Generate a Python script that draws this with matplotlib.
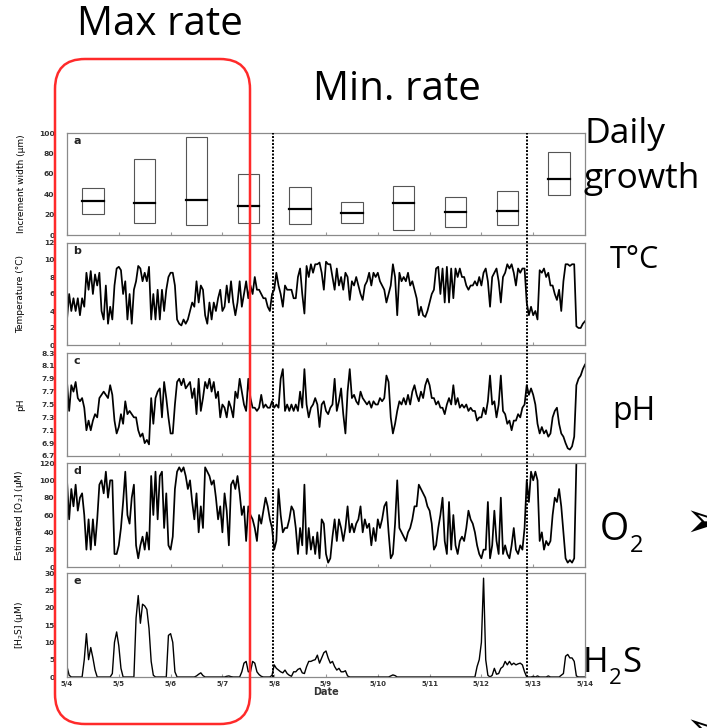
import numpy as np
import matplotlib
matplotlib.use("Agg")
import matplotlib.pyplot as plt
from matplotlib.patches import FancyBboxPatch, Rectangle
from matplotlib.lines import Line2D
from matplotlib import transforms

W, H = 707, 728

# --- panel a: daily increment width (um), one box per day ---
box_day = [0.5, 1.5, 2.5, 3.5, 4.5, 5.5, 6.5, 7.5, 8.5, 9.5]
box_low = [20.5, 12, 10, 12, 11, 12, 5, 8, 10, 39]
box_high = [46, 74.5, 96, 60, 47, 32, 48, 37, 43, 81]
box_med = [33, 31.5, 34, 28.5, 25.5, 22, 31, 22.5, 24, 55]

# --- hourly records from 5/4 00:00 to 5/14 00:00 ---
temp_c = [
    3.0, 6.0, 4.0, 5.5, 4.0, 5.5, 3.5, 5.5, 4.5, 8.5,
    6.5, 8.7, 6.0, 8.3, 7.0, 8.5, 4.0, 3.0, 7.0, 2.5,
    4.5, 3.0, 7.0, 9.0, 9.2, 8.8, 6.0, 7.5, 3.0, 6.0,
    2.5, 6.5, 7.5, 9.3, 9.0, 7.5, 8.5, 7.5, 9.2, 3.0,
    6.0, 3.0, 6.5, 3.0, 6.5, 4.0, 6.5, 8.0, 8.5, 8.5,
    7.0, 3.0, 2.5, 2.3, 3.0, 2.5, 3.0, 4.0, 5.0, 4.5,
    7.5, 5.0, 7.0, 6.5, 3.5, 2.5, 5.0, 3.0, 5.0, 4.0,
    5.5, 6.5, 4.0, 4.5, 7.0, 5.0, 7.5, 5.0, 3.5, 5.0,
    7.5, 4.5, 6.0, 7.5, 5.5, 7.0, 6.0, 8.0, 6.5, 6.5,
    6.0, 5.5, 5.5, 4.5, 4.0, 6.0, 6.5, 8.5, 7.0, 6.0,
    4.5, 7.0, 6.5, 6.5, 6.5, 5.5, 5.5, 8.0, 9.0, 6.0,
    3.7, 9.3, 8.0, 9.5, 8.5, 9.5, 9.5, 9.7, 8.5, 6.5,
    9.8, 9.5, 9.5, 8.0, 6.5, 9.0, 7.0, 8.0, 6.5, 8.5,
    8.0, 5.3, 7.5, 7.0, 8.0, 7.0, 6.0, 5.3, 7.0, 7.5,
    8.5, 7.0, 8.5, 8.0, 8.5, 7.5, 7.0, 6.5, 5.0, 6.0,
    7.0, 9.5, 8.0, 3.5, 8.5, 7.5, 8.0, 7.5, 8.5, 7.0,
    7.5, 6.5, 5.5, 3.5, 4.5, 3.5, 3.3, 4.0, 5.0, 6.0,
    6.5, 9.0, 9.2, 6.0, 9.0, 5.0, 9.2, 5.0, 9.0, 5.5,
    9.0, 8.0, 9.0, 8.0, 8.0, 7.0, 6.5, 7.0, 7.0, 7.5,
    7.0, 8.0, 7.0, 8.5, 9.0, 7.5, 4.5, 8.0, 8.5, 9.0,
    7.5, 5.0, 8.0, 8.5, 9.5, 9.0, 9.5, 8.5, 7.0, 9.0,
    8.5, 9.0, 9.0, 5.0, 3.5, 4.5, 3.5, 4.0, 3.0, 8.8,
    8.5, 9.0, 8.0, 8.5, 7.0, 7.0, 6.0, 5.3, 6.5, 4.0,
    7.5, 9.5, 9.5, 9.3, 9.5, 9.5, 2.2, 2.0, 2.0, 2.5,
    2.8,
]

ph = [
    7.85, 7.4, 7.8, 7.7, 7.85, 7.6, 7.55, 7.6, 7.45, 7.1,
    7.25, 7.1, 7.25, 7.35, 7.3, 7.6, 7.65, 7.7, 7.65, 7.6,
    7.8, 7.65, 7.25, 7.05, 7.15, 7.35, 7.2, 7.55, 7.35, 7.4,
    7.35, 7.3, 7.3, 7.1, 7.0, 7.05, 6.9, 6.95, 6.88, 7.6,
    7.2, 7.6, 7.7, 7.75, 7.3, 7.85, 7.6, 7.3, 7.05, 7.05,
    7.5, 7.85, 7.9, 7.8, 7.9, 7.75, 7.8, 7.85, 7.6, 7.75,
    7.35, 7.9, 7.4, 7.6, 7.85, 7.75, 7.9, 7.7, 7.85, 7.6,
    7.7, 7.3, 7.5, 7.45, 7.3, 7.55, 7.45, 7.3, 7.7, 7.6,
    7.9, 7.7, 7.5, 7.4, 7.9, 7.6, 7.45, 7.45, 7.4, 7.45,
    7.65, 7.45, 7.5, 7.45, 7.45, 7.55, 7.45, 7.5, 7.45, 7.9,
    8.05, 7.4, 7.5, 7.4, 7.5, 7.4, 7.5, 7.4, 7.7, 7.45,
    8.05, 7.5, 7.3, 7.45, 7.5, 7.6, 7.5, 7.15, 7.5, 7.55,
    7.4, 7.35, 7.45, 7.5, 7.9, 7.4, 7.55, 7.75, 7.35, 7.05,
    7.7, 8.05, 7.6, 7.65, 7.55, 7.5, 7.7, 7.6, 7.55, 7.5,
    7.55, 7.45, 7.55, 7.5, 7.5, 7.6, 7.55, 7.6, 7.95, 7.85,
    7.3, 7.05, 7.2, 7.4, 7.55, 7.5, 7.6, 7.5, 7.65, 7.5,
    7.7, 7.8, 7.65, 7.55, 7.7, 7.6, 7.8, 7.9, 7.8, 7.6,
    7.6, 7.5, 7.55, 7.45, 7.45, 7.35, 7.5, 7.6, 7.5, 7.8,
    7.5, 7.6, 7.45, 7.5, 7.45, 7.5, 7.4, 7.45, 7.4, 7.4,
    7.25, 7.3, 7.3, 7.45, 7.35, 7.55, 7.95, 7.5, 7.55, 7.3,
    7.5, 7.95, 7.4, 7.35, 7.2, 7.25, 7.1, 7.25, 7.25, 7.35,
    7.3, 7.45, 7.5, 7.8, 7.65, 7.75, 7.65, 7.5, 7.2, 7.05,
    7.15, 7.05, 7.1, 7.0, 7.05, 7.3, 7.4, 7.45, 7.2, 7.05,
    7.0, 6.9, 6.82, 6.8, 6.85, 7.0, 7.8, 7.9, 7.95, 8.05,
    8.12,
]

oxygen = [
    100, 55, 90, 70, 95, 65, 80, 85, 60, 20,
    55, 20, 55, 25, 55, 95, 100, 85, 110, 80,
    100, 100, 15, 15, 25, 45, 75, 110, 60, 50,
    80, 95, 25, 10, 25, 35, 20, 40, 20, 105,
    60, 110, 55, 105, 110, 45, 85, 25, 20, 35,
    90, 110, 115, 110, 115, 105, 90, 100, 75, 55,
    85, 40, 70, 45, 115, 110, 105, 95, 100, 80,
    55, 70, 40, 85, 65, 25, 95, 100, 90, 105,
    85, 60, 70, 30, 70, 60, 55, 45, 30, 60,
    50, 65, 80, 70, 55, 45, 20, 30, 90, 60,
    40, 45, 45, 55, 70, 65, 45, 15, 45, 25,
    95, 15, 45, 20, 35, 15, 40, 10, 55, 50,
    15, 5, 10, 35, 55, 30, 55, 45, 30, 45,
    70, 40, 50, 40, 50, 55, 70, 40, 55, 45,
    50, 25, 45, 30, 55, 45, 55, 70, 75, 40,
    10, 15, 50, 100, 45, 40, 35, 30, 40, 45,
    55, 70, 70, 95, 90, 85, 80, 70, 65, 50,
    20, 25, 45, 60, 80, 30, 15, 75, 20, 60,
    25, 15, 30, 35, 30, 45, 65, 55, 50, 40,
    25, 15, 10, 20, 20, 75, 10, 25, 65, 30,
    15, 80, 15, 25, 15, 10, 25, 45, 20, 15,
    25, 20, 45, 100, 75, 110, 100, 110, 100, 30,
    40, 20, 30, 25, 30, 60, 80, 75, 90, 70,
    40, 10, 5, 8, 5, 10, 120, 120, 120, 120,
    120,
]

h2s = [
    3.0, 0.5, 0, 0, 0, 0, 0, 0, 5, 12.5,
    5, 8.5, 5.5, 2, 0, 0, 0, 0, 0, 0,
    0, 1, 10, 13, 9, 2.5, 0, 0, 0, 0,
    0, 0, 17, 23.5, 15.5, 21, 20.5, 19.5, 14, 4.5,
    0.5, 0, 0, 0, 0, 0, 0, 12, 12.5, 10,
    1.5, 0, 0, 0, 0, 0, 0, 0, 0, 0,
    0.3, 0.8, 1.2, 0.4, 0, 0, 0, 0, 0, 0,
    0, 0, 0, 0, 0.2, 0.3, 0.1, 0, 0, 0,
    0, 1.5, 4.0, 4.5, 1.5, 1.5, 4.5, 4.0, 1.5, 0.7,
    0.2, 0, 0, 0, 0, 0.5, 3.5, 2.5, 2, 1.5,
    1.2, 2, 1, 0.5, 0.2, 1.5, 1.5, 2.2, 2.5, 1.2,
    1.0, 3, 4.5, 4.5, 4.8, 5, 6.3, 4, 5.5, 7,
    7.5, 5.5, 4, 4.5, 3, 2, 2.5, 1.5, 1.5, 1.8,
    0.3, 0, 0, 0, 0, 0, 0, 0, 0, 0,
    0, 0, 0, 0, 0, 0, 0, 0, 0, 0,
    0.3, 0.6, 0.4, 0, 0, 0, 0, 0, 0, 0,
    0, 0, 0, 0, 0, 0, 0, 0, 0, 0,
    0, 0, 0, 0, 0, 0, 0, 0, 0, 0,
    0, 0, 0, 0, 0, 0, 0, 0, 0, 0,
    3, 5, 10, 28.5, 5, 0.5, 0, 0.5, 2.5, 0.8,
    1, 2.5, 3, 4.5, 3.5, 4.5, 3.5, 4, 3.5, 3.8,
    4, 3.5, 1.5, 0, 0, 0, 0.2, 0, 0.3, 0,
    0, 0, 0, 0.3, 0, 0, 0, 0, 0, 0.5,
    1, 6, 6.5, 5.5, 5.5, 4.5, 0.3, 0, 0, 0,
    0,
]

date_labels = ["5/4", "5/5", "5/6", "5/7", "5/8", "5/9", "5/10",
               "5/11", "5/12", "5/13", "5/14"]
event_days = [3.98, 8.88]   # dotted markers

hours = np.arange(len(temp_c)) / 24.0

fig = plt.figure(figsize=(W / 100, H / 100), dpi=100)


def px_rect(top, bottom, left=67, right=585):
    return [left / W, 1 - bottom / H, (right - left) / W, (bottom - top) / H]


panel_px = [(133, 235), (243, 345), (353, 456), (463, 567), (573, 677)]
axes = [fig.add_axes(px_rect(t, b)) for t, b in panel_px]
ax_a, ax_b, ax_c, ax_d, ax_e = axes

narrow = ["Liberation Sans Narrow", "DejaVu Sans"]

for ax, letter in zip(axes, "abcde"):
    ax.set_xlim(0, 10)
    ax.set_xticks(range(11))
    for s in ax.spines.values():
        s.set_color("#8a8a8a")
        s.set_linewidth(0.9)
    ax.tick_params(axis="y", length=0, pad=9, labelsize=5.4, labelcolor="#333333")
    ax.tick_params(axis="x", direction="in", length=2, color="#999999",
                   labelbottom=False)
    ax.text(0.012, 0.97, letter, transform=ax.transAxes, fontsize=8,
            fontweight="bold", va="top", color="#222222")

# a
bw = 0.41
for d, lo, hi, md in zip(box_day, box_low, box_high, box_med):
    ax_a.add_patch(Rectangle((d - bw / 2, lo), bw, hi - lo, fill=False,
                             ec="#555555", lw=0.8))
    ax_a.plot([d - bw / 2, d + bw / 2], [md, md], color="k", lw=1.6)
ax_a.set_ylim(0, 100)
ax_a.set_yticks(range(0, 101, 20))
ax_a.set_ylabel("Increment width (µm)", family=narrow, fontsize=6.5)

# b-e
ax_b.plot(hours, temp_c, color="k", lw=1.25)
ax_b.set_ylim(0, 12)
ax_b.set_yticks(range(0, 13, 2))
ax_b.set_ylabel("Temperature (°C)", family=narrow, fontsize=6.5)

ax_c.plot(hours, ph, color="k", lw=1.25)
ax_c.set_ylim(6.7, 8.3)
ax_c.set_yticks(np.round(np.arange(6.7, 8.31, 0.2), 1))
ax_c.set_ylabel("pH", family=narrow, fontsize=6.5)

ax_d.plot(hours, oxygen, color="k", lw=1.25)
ax_d.set_ylim(0, 120)
ax_d.set_yticks(range(0, 121, 20))
ax_d.set_ylabel("Estimated [O$_2$] (µM)", family=narrow, fontsize=6.5)

ax_e.plot(hours, h2s, color="k", lw=1.0)
ax_e.set_ylim(0, 30)
ax_e.set_yticks(range(0, 31, 5))
ax_e.set_ylabel("[H$_2$S] (µM)", family=narrow, fontsize=6.5)
ax_e.tick_params(axis="x", labelbottom=True, labelsize=5, labelcolor="#333333", pad=3)
ax_e.set_xticklabels(date_labels, fontweight="bold")
ax_e.set_xlabel("Date", fontsize=7, fontweight="bold", labelpad=0, color="#333333")

for ax in axes:
    ax.yaxis.set_label_coords(-0.08, 0.5)
    for lab in ax.get_yticklabels():
        lab.set_fontweight("bold")

# dotted event lines crossing every panel
trans = transforms.blended_transform_factory(ax_e.transData, fig.transFigure)
for d in event_days:
    fig.add_artist(Line2D([d, d], [1 - 677 / H, 1 - 133 / H], transform=trans,
                          color="k", lw=1.4, ls=(0, (1, 0.8)), zorder=5))

# slide annotations
big = "Open Sans"
fig.text(77 / W, 1 - 35 / H, "Max rate", fontsize=29, family=big, va="baseline")
fig.text(313 / W, 1 - 100 / H, "Min. rate", fontsize=29, family=big, va="baseline")
fig.text(585 / W, 1 - 143 / H, "Daily", fontsize=25.5, family=big, va="baseline")
fig.text(583 / W, 1 - 188 / H, "growth", fontsize=25.5, family=big, va="baseline")
fig.text(610 / W, 1 - 268 / H, "T°C", fontsize=22, family=big, va="baseline")
fig.text(612 / W, 1 - 420 / H, "pH", fontsize=23, family=big, va="baseline")
fig.text(600 / W, 1 - 540 / H, "O", fontsize=27, family=big, va="baseline")
fig.text(630 / W, 1 - 552 / H, "2", fontsize=17, family=big, va="baseline")
fig.text(583 / W, 1 - 672 / H, "H", fontsize=25, family=big, va="baseline")
fig.text(609 / W, 1 - 684 / H, "2", fontsize=16, family=big, va="baseline")
fig.text(622 / W, 1 - 672 / H, "S", fontsize=25, family=big, va="baseline")
# bullet markers, cut by the right/bottom edge as on the slide
fig.text(684 / W, 1 - 523 / H, "➢", fontsize=36, family="DejaVu Sans",
         va="center", ha="left")
fig.text(684 / W, 1 - 732 / H, "➢", fontsize=36, family="DejaVu Sans",
         va="center", ha="left")

r = 30
fig.add_artist(FancyBboxPatch((55 / W, 1 - 724 / H), 195 / W, 665 / H,
                              boxstyle=f"round,pad=0,rounding_size={r / W}",
                              mutation_aspect=W / H, transform=fig.transFigure,
                              fill=False, ec="#ff2a2a", lw=1.8, zorder=10))

fig.savefig("out.png", dpi=100)
